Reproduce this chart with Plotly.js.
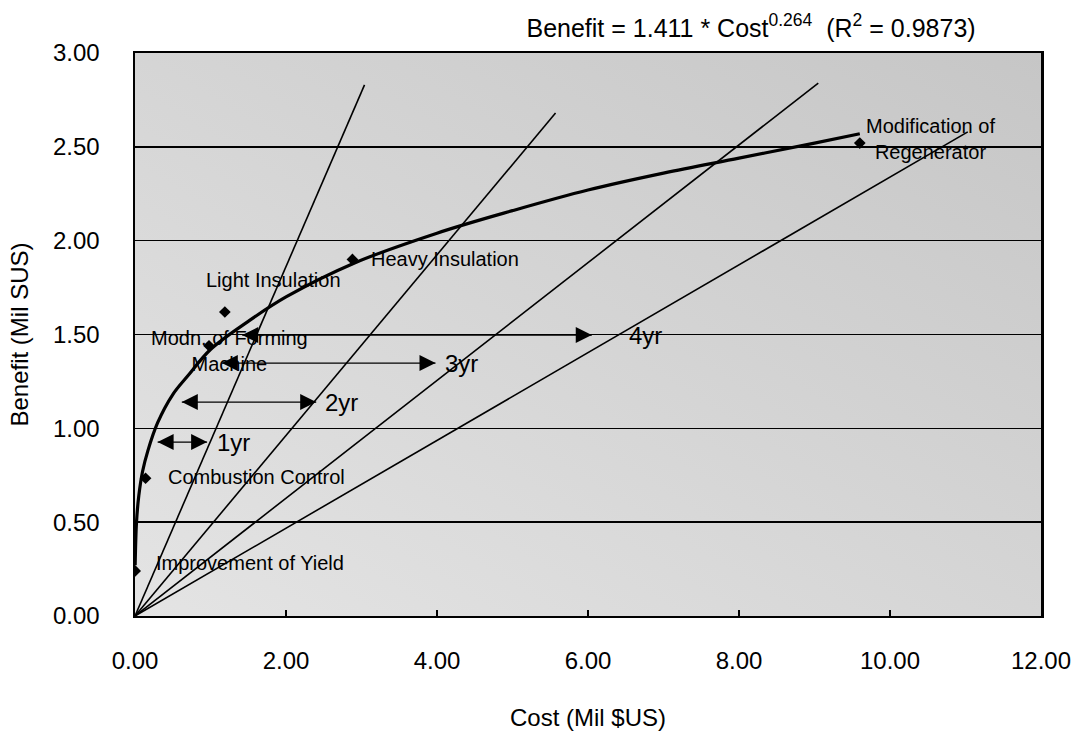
<!DOCTYPE html>
<html>
<head>
<meta charset="utf-8">
<script src="https://cdn.plot.ly/plotly-3.0.1.min.js"></script>
<style>html,body{margin:0;padding:0;background:#fff;}#chart{width:1072px;height:737px;}</style>
</head>
<body>
<div id="chart"></div>
<script>
// Power trendline
const curveCost    = [0.002, 0.02, 0.05, 0.10, 0.17, 0.30, 0.50, 0.70, 1.00, 1.50, 2.00, 2.90, 4.00, 5.00, 6.00, 7.00, 8.00, 9.00, 9.60];
const curveBenefit = [0.27, 0.50, 0.64, 0.77, 0.88, 1.03, 1.18, 1.28, 1.42, 1.57, 1.70, 1.88, 2.04, 2.16, 2.27, 2.36, 2.44, 2.52, 2.57];

// Projects (diamonds)
const pointNames   = ['Improvement of Yield', 'Combustion Control', 'Modn. of Forming Machine', 'Light Insulation', 'Heavy Insulation', 'Modification of Regenerator'];
const pointCost    = [0.002, 0.14, 0.98, 1.19, 2.88, 9.60];
const pointBenefit = [0.24, 0.734, 1.44, 1.62, 1.90, 2.52];

// Project label texts and positions
const labelTexts   = ['Improvement of Yield', 'Combustion Control', 'Modn. of Forming<br>Machine', 'Light Insulation', 'Heavy Insulation', 'Modification of<br>Regenerator'];
const labelCost    = [0.25, 0.41, 1.25, 0.915, 3.10, 10.54];
const labelBenefit = [0.28, 0.742, 1.41, 1.79, 1.905, 2.54];
const labelAnchor  = ['left', 'left', 'center', 'left', 'left', 'center'];

// Payback lines from the origin
const paybackLabels      = ['1yr', '2yr', '3yr', '4yr'];
const paybackEndCost     = [3.04, 5.57, 9.05, 11.03];
const paybackEndBenefit  = [2.83, 2.68, 2.84, 2.58];

// Payback double arrows
const arrowBenefit  = [0.927, 1.14, 1.348, 1.497];
const arrowFromCost = [0.30, 0.62, 1.15, 1.42];
const arrowToCost   = [0.955, 2.40, 3.98, 6.05];
const paybackLabelCost = [1.06, 2.49, 4.08, 6.52];

// Axis ticks
const xTicks = [0, 2, 4, 6, 8, 10, 12];
const yTicks = [0, 0.5, 1.0, 1.5, 2.0, 2.5, 3.0];

const REG = 'Liberation Sans, Arial, sans-serif';

const traces = [];
paybackLabels.forEach((lab, i) => {
  traces.push({
    x: [0, paybackEndCost[i]], y: [0, paybackEndBenefit[i]],
    mode: 'lines', type: 'scatter', name: lab + ' payback',
    line: {color: '#000', width: 1.6}, hoverinfo: 'skip'
  });
});
// double-headed payback arrows
paybackLabels.forEach((lab, i) => {
  traces.push({
    x: [arrowFromCost[i], arrowToCost[i]], y: [arrowBenefit[i], arrowBenefit[i]],
    mode: 'lines+markers', type: 'scatter', name: lab + ' arrow',
    line: {color: '#000', width: 1.3},
    marker: {symbol: ['arrow-left', 'arrow-right'], size: 16, color: '#000', line: {width: 0}},
    hoverinfo: 'skip'
  });
});
traces.push({
  x: curveCost, y: curveBenefit, mode: 'lines', type: 'scatter', name: 'Power fit',
  line: {color: '#000', width: 3.2, shape: 'spline'}
});
traces.push({
  x: pointCost, y: pointBenefit, mode: 'markers', type: 'scatter', name: 'Projects',
  text: pointNames, marker: {symbol: 'diamond', size: 9, color: '#000'}
});

const annotations = [];
labelTexts.forEach((t, i) => {
  annotations.push({
    x: labelCost[i], y: labelBenefit[i], xref: 'x', yref: 'y', text: t,
    showarrow: false, xanchor: labelAnchor[i], yanchor: 'middle', align: 'center',
    font: {family: REG, size: 20, color: '#000'}
  });
});
paybackLabels.forEach((lab, i) => {
  annotations.push({
    x: paybackLabelCost[i], y: arrowBenefit[i], xref: 'x', yref: 'y', text: lab,
    showarrow: false, xanchor: 'left', yanchor: 'middle',
    font: {family: REG, size: 24, color: '#000'}
  });
});

const bgSvg = 'data:image/svg+xml;utf8,' + encodeURIComponent(
  '<svg xmlns="http://www.w3.org/2000/svg" width="100" height="100" preserveAspectRatio="none">' +
  '<defs><linearGradient id="g" x1="0" y1="1" x2="1" y2="0">' +
  '<stop offset="0" stop-color="#e4e4e4"/><stop offset="1" stop-color="#c6c6c6"/></linearGradient></defs>' +
  '<rect width="100" height="100" fill="url(#g)"/></svg>');

const layout = {
  width: 1072, height: 737,
  margin: {l: 135, r: 31, t: 53, b: 121},
  paper_bgcolor: '#fff', plot_bgcolor: '#d6d6d6',
  showlegend: false,
  title: {
    text: 'Benefit = 1.411 * Cost<sup>0.264</sup>&nbsp; (R<sup>2</sup> = 0.9873)',
    x: 0.7006, xanchor: 'center', xref: 'container',
    y: 0.962, yanchor: 'middle', yref: 'container',
    font: {family: REG, size: 25, color: '#000'}
  },
  xaxis: {
    range: [0, 12], tickvals: xTicks, tickformat: '.2f',
    ticks: 'inside', ticklen: 6, tickwidth: 2, tickcolor: '#000',
    showgrid: false, zeroline: false,
    showline: true, linecolor: '#000', linewidth: 2, mirror: true,
    ticklabelstandoff: 22, ticklabeloverflow: 'allow',
    tickfont: {family: REG, size: 24, color: '#000'},
    title: {text: 'Cost (Mil $US)', standoff: 36, font: {family: REG, size: 24, color: '#000'}}
  },
  yaxis: {
    range: [0, 3], tickvals: yTicks, tickformat: '.2f',
    ticks: '', showgrid: true, gridcolor: '#000', gridwidth: 1.5, zeroline: false,
    showline: true, linecolor: '#000', linewidth: 2.5, mirror: true,
    ticklabelstandoff: 28,
    tickfont: {family: REG, size: 24, color: '#000'},
    title: {text: 'Benefit (Mil SUS)', standoff: 18, font: {family: REG, size: 24, color: '#000'}}
  },
  images: [{source: bgSvg, xref: 'paper', yref: 'paper', x: 0, y: 1, sizex: 1, sizey: 1,
            sizing: 'stretch', xanchor: 'left', yanchor: 'top', layer: 'below'}],
  annotations: annotations
};

Plotly.newPlot('chart', traces, layout, {displayModeBar: false, staticPlot: true});
</script>
</body>
</html>
